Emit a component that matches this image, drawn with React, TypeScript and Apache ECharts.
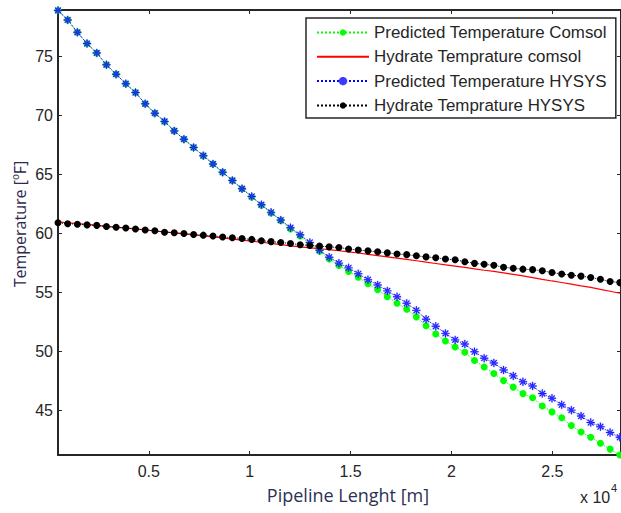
import React, { useEffect, useRef } from "react";
import * as echarts from "echarts";

// Pipeline length samples, in units of 10^4 m
const distanceStart = 0.05;
const distanceStep = 0.048;

const predictedComsol = [
  78.9, 78.1, 77.05, 76.1, 75.3, 74.3, 73.5, 72.7, 71.95, 71.0,
  70.2, 69.5, 68.7, 68.0, 67.3, 66.6, 65.9, 65.2, 64.5, 63.8,
  63.1, 62.4, 61.75, 61.1, 60.4, 59.8, 59.1, 58.5, 57.85, 57.3,
  56.8, 56.3, 55.75, 55.25, 54.65, 54.1, 53.6, 52.95, 52.2, 51.5,
  50.9, 50.4, 49.95, 49.25, 48.7, 48.15, 47.55, 47.0, 46.45, 46.1,
  45.4, 44.9, 44.4, 43.75, 43.2, 42.75, 42.25, 41.75, 41.25,
];

const hydrateComsol = [
  61.0, 60.92, 60.85, 60.78, 60.7, 60.62, 60.55, 60.47, 60.4, 60.32,
  60.22, 60.15, 60.07, 59.98, 59.9, 59.8, 59.72, 59.63, 59.54, 59.45,
  59.36, 59.27, 59.17, 59.07, 58.97, 58.88, 58.8, 58.72, 58.64, 58.55,
  58.46, 58.36, 58.25, 58.14, 58.03, 57.92, 57.82, 57.7, 57.58, 57.47,
  57.36, 57.25, 57.14, 57.02, 56.9, 56.8, 56.68, 56.55, 56.42, 56.28,
  56.13, 55.99, 55.86, 55.72, 55.58, 55.45, 55.28, 55.12, 54.95,
];

const predictedHysys = [
  78.9, 78.1, 77.05, 76.1, 75.3, 74.3, 73.5, 72.7, 71.95, 71.0,
  70.2, 69.5, 68.7, 68.0, 67.3, 66.6, 65.9, 65.2, 64.5, 63.8,
  63.15, 62.45, 61.8, 61.15, 60.5, 59.9, 59.25, 58.6, 58.0, 57.5,
  57.1, 56.6, 56.1, 55.65, 55.15, 54.65, 54.1, 53.5, 52.75, 52.15,
  51.55, 51.0, 50.65, 50.0, 49.45, 49.05, 48.45, 47.95, 47.45, 47.1,
  46.45, 46.05, 45.5, 45.05, 44.55, 44.0, 43.65, 43.15, 42.75,
];

const hydrateHysys = [
  60.92, 60.84, 60.8, 60.74, 60.7, 60.6, 60.54, 60.48, 60.39, 60.31,
  60.24, 60.12, 60.07, 60.01, 59.93, 59.87, 59.8, 59.72, 59.65, 59.58,
  59.51, 59.4, 59.32, 59.25, 59.16, 59.06, 59.0, 58.94, 58.88, 58.82,
  58.7, 58.61, 58.54, 58.46, 58.37, 58.28, 58.22, 58.12, 58.03, 57.95,
  57.85, 57.78, 57.62, 57.48, 57.4, 57.32, 57.15, 57.06, 56.99, 56.95,
  56.85, 56.71, 56.58, 56.48, 56.4, 56.28, 56.13, 55.95, 55.85,
];

const seriesNames = [
  "Predicted Temperature Comsol",
  "Hydrate Temprature comsol",
  "Predicted Temperature HYSYS",
  "Hydrate Temprature HYSYS",
];

const xTitle = "Pipeline Lenght [m]";
const yTitle = "Temperature [ºF]";
const xScaleNote = "x 10";
const xScaleExponent = "4";

const asterisk =
  "path://M-5,-0.6L5,-0.6L5,0.6L-5,0.6ZM-0.6,-5L0.6,-5L0.6,5L-0.6,5ZM-3.08,-3.92L3.92,3.08L3.08,3.92L-3.92,-3.08ZM-3.92,3.08L3.08,-3.92L3.92,-3.08L-3.08,3.92Z";

const distances = predictedComsol.map((_, i) =>
  Number((distanceStart + i * distanceStep).toFixed(4))
);
const pair = (vals: number[]) => vals.map((v, i) => [distances[i], v]);

const AXIS_COLOR = "#262626";
const FONT = "'Liberation Sans', Arial, sans-serif";
const TITLE_FONT = "'Open Sans', sans-serif";

export default function App() {
  const ref = useRef<HTMLDivElement>(null);

  useEffect(() => {
    if (!ref.current) return;
    const chart = echarts.init(ref.current, undefined, { renderer: "svg" });

    const xBase = {
      type: "value" as const,
      min: 0.05,
      max: 2.84,
      splitLine: { show: false },
      axisLine: { show: true, onZero: false, lineStyle: { color: AXIS_COLOR, width: 2 } },
      axisTick: { show: true, inside: true, length: 4, lineStyle: { color: AXIS_COLOR, width: 1 } },
    };
    const yBase = {
      type: "value" as const,
      min: 41.25,
      max: 78.94,
      splitNumber: 8,
      splitLine: { show: false },
      axisLine: { show: true, onZero: false, lineStyle: { color: AXIS_COLOR, width: 2 } },
      axisTick: { show: true, inside: true, length: 4, lineStyle: { color: AXIS_COLOR, width: 1 } },
    };

    chart.setOption({
      animation: false,
      backgroundColor: "#ffffff",
      grid: { left: 58, right: -2, top: 10, bottom: 58, containLabel: false },
      xAxis: [
        {
          ...xBase,
          position: "bottom",
          axisLabel: {
            show: true,
            fontSize: 16,
            color: AXIS_COLOR,
            fontFamily: FONT,
            margin: 8,
            showMinLabel: false,
            showMaxLabel: false,
          },
        },
        { ...xBase, position: "top", axisLabel: { show: false } },
      ],
      yAxis: [
        {
          ...yBase,
          position: "left",
          axisLabel: {
            show: true,
            fontSize: 16,
            color: AXIS_COLOR,
            fontFamily: FONT,
            margin: 5,
            showMinLabel: false,
            showMaxLabel: false,
          },
        },
        { ...yBase, position: "right", axisLabel: { show: false } },
      ],
      legend: {
        orient: "vertical",
        left: 306,
        top: 18,
        data: [
          { name: seriesNames[0] },
          { name: seriesNames[1], itemStyle: { color: "rgba(0,0,0,0)", borderWidth: 0, opacity: 0 } },
          { name: seriesNames[2] },
          { name: seriesNames[3] },
        ],
        itemWidth: 52,
        itemHeight: 8,
        itemGap: 7.3,
        padding: [6, 9, 4, 10],
        backgroundColor: "#ffffff",
        borderColor: AXIS_COLOR,
        borderWidth: 1.5,
        borderRadius: 0,
        textStyle: { fontSize: 16.9, color: AXIS_COLOR, fontFamily: FONT },
      },
      series: [
        {
          name: seriesNames[0],
          type: "line",
          data: pair(predictedComsol),
          symbol: "circle",
          symbolSize: 7,
          showAllSymbol: true,
          itemStyle: { color: "#00ff00" },
          lineStyle: { color: "#00ff00", width: 1, type: "dotted" },
        },
        {
          name: seriesNames[1],
          type: "line",
          data: pair(hydrateComsol),
          showSymbol: false,
          symbol: "none",
          itemStyle: { color: "#ff0000" },
          lineStyle: { color: "#ff0000", width: 1.2 },
        },
        {
          name: seriesNames[2],
          type: "line",
          data: pair(predictedHysys),
          symbol: asterisk,
          symbolSize: 8,
          showAllSymbol: true,
          itemStyle: { color: "#0000ff", borderColor: "#3a3aff", borderWidth: 0.4 },
          lineStyle: { color: "#0000ff", width: 1, type: "dotted" },
        },
        {
          name: seriesNames[3],
          type: "line",
          data: pair(hydrateHysys),
          symbol: "circle",
          symbolSize: 7,
          showAllSymbol: true,
          itemStyle: { color: "#000000" },
          lineStyle: { color: "#000000", width: 1, type: "dotted" },
        },
      ],
      graphic: [
        {
          type: "text",
          x: 348,
          y: 495,
          style: {
            text: xTitle,
            fontSize: 18,
            fontFamily: TITLE_FONT,
            fill: "#2b3152",
            align: "center",
            verticalAlign: "middle",
          },
        },
        {
          type: "text",
          x: 20,
          y: 224,
          rotation: Math.PI / 2,
          style: {
            text: yTitle,
            fontSize: 16,
            fontFamily: TITLE_FONT,
            fill: "#2e2a4f",
            align: "center",
            verticalAlign: "middle",
          },
        },
        {
          type: "text",
          x: 580,
          y: 497,
          style: {
            text: xScaleNote,
            fontSize: 16,
            fontFamily: FONT,
            fill: AXIS_COLOR,
            align: "left",
            verticalAlign: "middle",
          },
        },
        {
          type: "text",
          x: 611,
          y: 488,
          style: {
            text: xScaleExponent,
            fontSize: 11,
            fontFamily: FONT,
            fill: AXIS_COLOR,
            align: "left",
            verticalAlign: "middle",
          },
        },
      ],
    });

    return () => chart.dispose();
  }, []);

  return (
    <div
      ref={ref}
      style={{ position: "fixed", left: 0, top: 0, width: 621, height: 513, background: "#fff" }}
    />
  );
}
